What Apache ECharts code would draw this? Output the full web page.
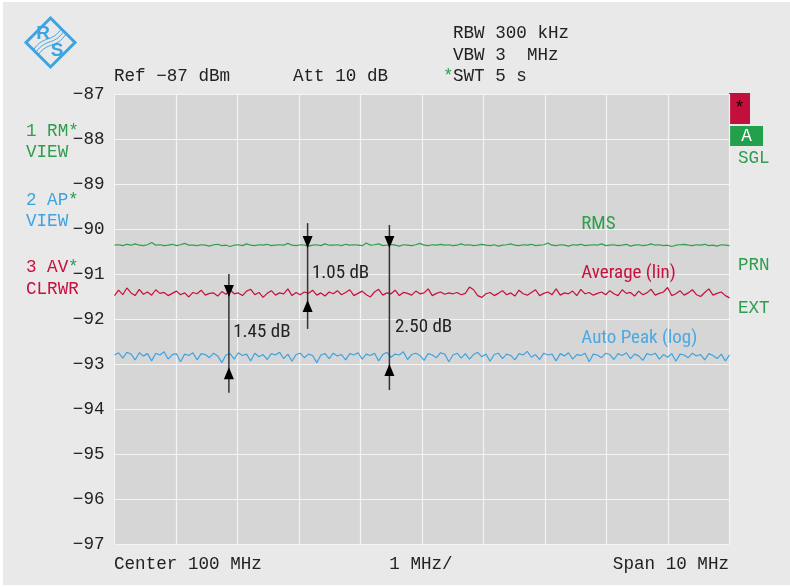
<!DOCTYPE html>
<html><head><meta charset="utf-8">
<script src="https://cdn.jsdelivr.net/npm/echarts@6/dist/echarts.min.js"></script>
<style>html,body{margin:0;padding:0;background:#fff}#c{width:790px;height:587px}</style>
</head><body><div id="c"></div>
<script>
// ---- data ----
const freqStart = 95, freqStop = 105;          // MHz (Center 100 MHz, Span 10 MHz)
const yTicks = [-97,-96,-95,-94,-93,-92,-91,-90,-89,-88,-87];
const rmsTrace = [
-90.36,-90.35,-90.37,-90.34,-90.36,-90.33,-90.36,-90.37,-90.35,-90.30,-90.36,-90.35,-90.37,-90.36,-90.34,-90.37,-90.35,-90.32,-90.36,-90.36,
-90.37,-90.35,-90.36,-90.38,-90.35,-90.34,-90.37,-90.36,-90.39,-90.36,-90.35,-90.37,-90.33,-90.36,-90.37,-90.35,-90.36,-90.34,-90.37,-90.36,
-90.35,-90.36,-90.32,-90.36,-90.37,-90.35,-90.36,-90.38,-90.36,-90.35,-90.37,-90.33,-90.36,-90.36,-90.35,-90.37,-90.34,-90.36,-90.35,-90.36,
-90.37,-90.31,-90.36,-90.35,-90.33,-90.37,-90.36,-90.34,-90.36,-90.38,-90.35,-90.36,-90.37,-90.35,-90.32,-90.36,-90.37,-90.35,-90.36,-90.34,
-90.36,-90.35,-90.37,-90.36,-90.33,-90.36,-90.35,-90.37,-90.36,-90.34,-90.36,-90.37,-90.35,-90.38,-90.36,-90.35,-90.33,-90.36,-90.37,-90.35,
-90.36,-90.34,-90.37,-90.36,-90.35,-90.31,-90.36,-90.37,-90.35,-90.36,-90.38,-90.35,-90.36,-90.34,-90.37,-90.36,-90.35,-90.36,-90.33,-90.37,
-90.36,-90.35,-90.37,-90.36,-90.34,-90.38,-90.36,-90.35,-90.37,-90.36,-90.33,-90.36,-90.35,-90.37,-90.36,-90.39,-90.36,-90.35,-90.34,-90.36,
-90.37,-90.35,-90.36,-90.34,-90.37,-90.36,-90.38,-90.35,-90.36,-90.37];
const avgTrace = [
-91.48,-91.36,-91.46,-91.31,-91.42,-91.48,-91.34,-91.45,-91.40,-91.47,-91.35,-91.43,-91.41,-91.48,-91.43,-91.38,-91.46,-91.42,-91.51,-91.41,
-91.44,-91.36,-91.47,-91.43,-91.42,-91.49,-91.39,-91.45,-91.35,-91.44,-91.42,-91.48,-91.38,-91.34,-91.46,-91.41,-91.52,-91.43,-91.37,-91.47,
-91.42,-91.44,-91.33,-91.48,-91.41,-91.46,-91.40,-91.43,-91.36,-91.47,-91.42,-91.49,-91.40,-91.44,-91.37,-91.46,-91.41,-91.35,-91.48,-91.43,
-91.38,-91.46,-91.51,-91.40,-91.34,-91.47,-91.42,-91.44,-91.36,-91.48,-91.41,-91.43,-91.47,-91.38,-91.44,-91.42,-91.33,-91.48,-91.43,-91.40,
-91.45,-91.42,-91.44,-91.41,-91.46,-91.43,-91.29,-91.35,-91.48,-91.52,-91.44,-91.41,-91.48,-91.43,-91.37,-91.46,-91.42,-91.49,-91.36,-91.44,
-91.47,-91.41,-91.35,-91.48,-91.43,-91.40,-91.46,-91.33,-91.47,-91.42,-91.44,-91.38,-91.48,-91.34,-91.44,-91.41,-91.47,-91.43,-91.40,-91.46,
-91.37,-91.44,-91.48,-91.35,-91.43,-91.41,-91.49,-91.38,-91.46,-91.42,-91.34,-91.47,-91.43,-91.40,-91.30,-91.48,-91.44,-91.37,-91.47,-91.42,
-91.35,-91.46,-91.50,-91.41,-91.33,-91.47,-91.43,-91.40,-91.48,-91.53];
const apTrace = [
-92.80,-92.75,-92.87,-92.74,-92.78,-92.91,-92.75,-92.82,-92.77,-92.93,-92.76,-92.80,-92.73,-92.89,-92.79,-92.77,-92.95,-92.78,-92.81,-92.75,
-92.91,-92.77,-92.79,-92.86,-92.76,-92.82,-92.97,-92.80,-92.77,-92.89,-92.75,-92.81,-92.78,-92.93,-92.76,-92.84,-92.79,-92.90,-92.77,-92.80,
-92.74,-92.88,-92.78,-92.94,-92.79,-92.76,-92.86,-92.78,-92.81,-92.97,-92.80,-92.77,-92.88,-92.76,-92.82,-92.79,-92.91,-92.77,-92.80,-92.75,
-92.89,-92.78,-92.81,-92.76,-92.93,-92.79,-92.74,-92.85,-92.78,-92.80,-92.73,-92.90,-92.79,-92.76,-92.81,-92.92,-92.77,-92.80,-92.86,-92.75,
-92.78,-92.95,-92.80,-92.76,-92.87,-92.77,-92.89,-92.79,-92.74,-92.84,-92.78,-92.94,-92.79,-92.76,-92.88,-92.78,-92.81,-92.91,-92.77,-92.80,
-92.72,-92.85,-92.79,-92.90,-92.76,-92.80,-92.78,-92.93,-92.77,-92.82,-92.75,-92.89,-92.79,-92.81,-92.76,-92.95,-92.78,-92.80,-92.86,-92.76,
-92.79,-92.90,-92.77,-92.81,-92.75,-92.88,-92.78,-92.82,-92.92,-92.77,-92.80,-92.76,-92.89,-92.79,-92.85,-92.77,-92.94,-92.78,-92.80,-92.86,
-92.76,-92.82,-92.79,-92.91,-92.77,-92.81,-92.88,-92.78,-92.93,-92.80];
// measurement arrows: x (MHz), line top/bottom (dB), arrow tip top/bottom (dB)
const arrowX      = [96.86, 98.14, 99.47];
const arrowLineTop = [-91.00, -89.87, -89.91];
const arrowLineBot = [-93.64, -92.22, -93.58];
const arrowTipTop  = [-91.51, -90.42, -90.42];
const arrowTipBot  = [-93.07, -91.58, -93.00];
// annotation texts
const noteText = ['1.45 dB', '1.05 dB', '2.50 dB', 'RMS', 'Average (lin)', 'Auto Peak (log)'];
const noteX    = [96.93, 98.21, 99.56, 102.59, 102.59, 102.59];
const noteY    = [-92.29, -90.98, -92.18, -89.89, -90.98, -92.42];
const noteColor = ['#222', '#222', '#222', '#2e9e4c', '#c8103c', '#4aa8e4'];

const GREEN = '#2e9e4c', RED = '#c8103c', BLUE = '#3ea3e2';
const MONO = "'Liberation Mono','DejaVu Sans Mono',monospace";
const NARROW = "'Liberation Sans Narrow','Roboto Condensed','Roboto',sans-serif";
const FS = 17.6;

function toPairs(arr){
  const n = arr.length;
  return arr.map((v,i)=>[freqStart + i*(freqStop-freqStart)/(n-1), v]);
}
const arrowData = arrowX.map((x,i)=>[x, arrowLineTop[i], arrowLineBot[i], arrowTipTop[i], arrowTipBot[i]]);
const noteData = noteX.map((x,i)=>[x, noteY[i]]);

const chart = echarts.init(document.getElementById('c'), null, {renderer:'canvas'});
const txt = (x,y,t,color,align,extra)=>Object.assign({type:'text', x, y, style:{text:t, fill:color||'#222', font:FS+"px "+MONO, textAlign:align||'left', textVerticalAlign:'middle'}}, extra||{});

chart.setOption({
  backgroundColor:'#fff',
  animation:false,
  grid:{left:114.5, right:60.5, top:94, bottom:43, show:true, backgroundColor:'#d6d6d6', borderWidth:0},
  xAxis:{type:'value', min:freqStart, max:freqStop, interval:1,
    axisLine:{show:false}, axisTick:{show:false}, axisLabel:{show:false},
    splitLine:{show:true, lineStyle:{color:'#f4f4f4', width:1.2}}},
  yAxis:{type:'value', min:yTicks[0], max:yTicks[yTicks.length-1], interval:1,
    axisLine:{show:false}, axisTick:{show:false},
    axisLabel:{margin:10, color:'#222', fontFamily:MONO, fontSize:FS, formatter:v=>String(v).replace('-','\u2212')},
    splitLine:{show:true, lineStyle:{color:'#f4f4f4', width:1.2}}},
  graphic:[
    {type:'rect', z:-10, silent:true, shape:{x:3,y:2,width:787,height:583}, style:{fill:'#e9e9e9'}},
    // logo
    {type:'polygon', shape:{points:[[50.5,18],[75,42.5],[50.5,67],[26,42.5]]}, style:{fill:'none', stroke:'#3ea3e2', lineWidth:3}},
    {type:'bezierCurve', shape:{x1:36,y1:52,x2:64,y2:31,cpx1:46,cpy1:38,cpx2:54,cpy2:46}, style:{stroke:'#3ea3e2', lineWidth:1, fill:'none'}},
    {type:'bezierCurve', shape:{x1:38,y1:55,x2:66,y2:34,cpx1:48,cpy1:41,cpx2:56,cpy2:49}, style:{stroke:'#3ea3e2', lineWidth:1, fill:'none'}},
    {type:'bezierCurve', shape:{x1:34,y1:49,x2:62,y2:28,cpx1:44,cpy1:35,cpx2:52,cpy2:43}, style:{stroke:'#3ea3e2', lineWidth:1, fill:'none'}},
    {type:'text', x:43, y:34, style:{text:'R', fill:'#3ea3e2', font:"bold 19px 'Liberation Sans Narrow','Liberation Sans',sans-serif", textAlign:'center', textVerticalAlign:'middle'}},
    {type:'text', x:57, y:51, style:{text:'S', fill:'#3ea3e2', font:"bold 19px 'Liberation Sans Narrow','Liberation Sans',sans-serif", textAlign:'center', textVerticalAlign:'middle'}},
    // header
    txt(453,33,'RBW 300 kHz'),
    txt(453,55,'VBW 3  MHz'),
    txt(443,76,'*',GREEN),
    txt(453,76,'SWT 5 s'),
    txt(114,76,'Ref \u221287 dBm'),
    txt(293,76,'Att 10 dB'),
    // footer
    txt(114,564,'Center 100 MHz'),
    txt(421,564,'1 MHz/','#222','center'),
    txt(729,564,'Span 10 MHz','#222','right'),
    // left trace labels
    txt(26,131,'1 RM*',GREEN), txt(26,152,'VIEW',GREEN),
    txt(26,200,'2 AP',BLUE), txt(68,200,'*',GREEN), txt(26,221,'VIEW',BLUE),
    txt(26,267,'3 AV',RED), txt(68,267,'*',GREEN), txt(26,289,'CLRWR',RED),
    // right status
    {type:'rect', shape:{x:729,y:93,width:21,height:31}, style:{fill:'#c20f3c'}},
    txt(739.5,108,'*','#000','center',{z:10}),
    {type:'rect', shape:{x:730,y:126,width:33,height:20}, style:{fill:'#23a04b'}},
    txt(746.5,136,'A','#fff','center',{z:10}),
    txt(738,158,'SGL',GREEN),
    txt(738,265,'PRN',GREEN),
    txt(738,308,'EXT',GREEN)
  ],
  series:[
    {type:'line', data:toPairs(rmsTrace), symbol:'none', lineStyle:{color:GREEN, width:1.2}, z:3},
    {type:'line', data:toPairs(avgTrace), symbol:'none', lineStyle:{color:RED, width:1.2}, z:3},
    {type:'line', data:toPairs(apTrace), symbol:'none', lineStyle:{color:BLUE, width:1.2}, z:3},
    {type:'custom', z:5, data:arrowData, renderItem:(params, api)=>{
        const x = api.value(0);
        const pTop = api.coord([x, api.value(1)]);
        const pBot = api.coord([x, api.value(2)]);
        const tT = api.coord([x, api.value(3)]);
        const tB = api.coord([x, api.value(4)]);
        const hw = 5, hh = 12;
        return {type:'group', children:[
          {type:'line', shape:{x1:pTop[0],y1:pTop[1],x2:pBot[0],y2:pBot[1]}, style:{stroke:'#333', lineWidth:1.5}},
          {type:'polygon', shape:{points:[[tT[0]-hw,tT[1]-hh],[tT[0]+hw,tT[1]-hh],[tT[0],tT[1]]]}, style:{fill:'#000'}},
          {type:'polygon', shape:{points:[[tB[0]-hw,tB[1]+hh],[tB[0]+hw,tB[1]+hh],[tB[0],tB[1]]]}, style:{fill:'#000'}}
        ]};
      }},
    {type:'custom', z:6, data:noteData, renderItem:(params, api)=>{
        const p = api.coord([api.value(0), api.value(1)]);
        return {type:'text', x:p[0], y:p[1], style:{text:noteText[params.dataIndex], fill:noteColor[params.dataIndex],
          font:"19px "+NARROW, textAlign:'left', textVerticalAlign:'middle'}};
      }}
  ]
});
</script>
</body></html>
